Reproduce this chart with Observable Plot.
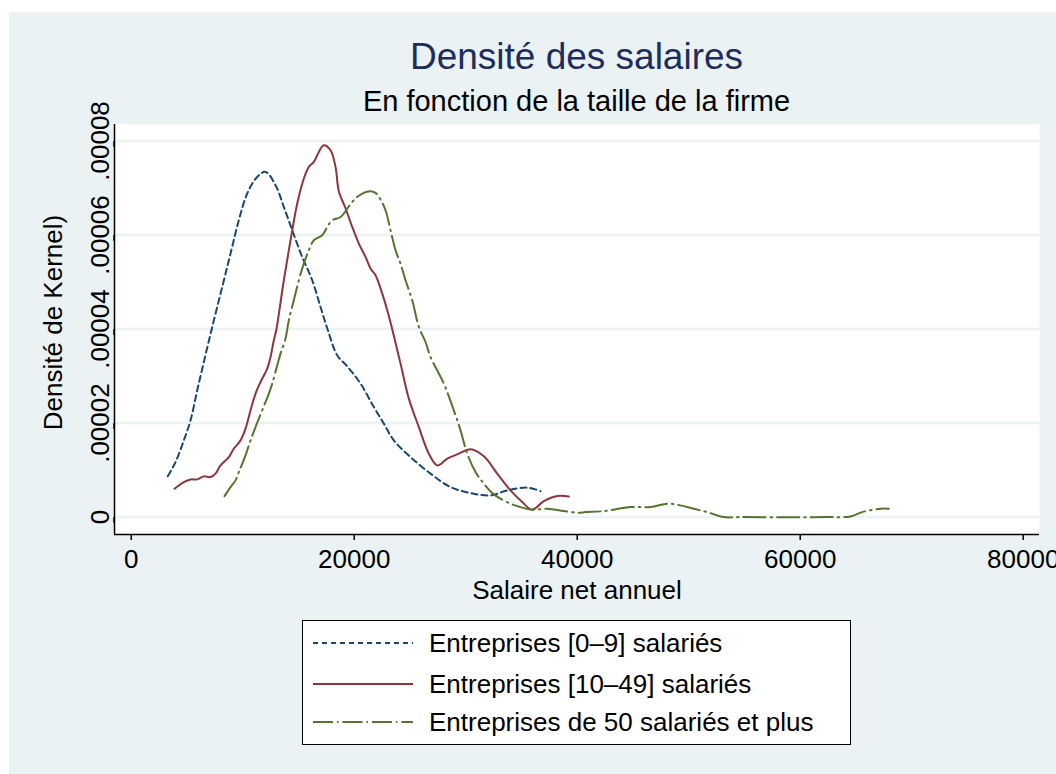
<!DOCTYPE html>
<html>
<head>
<meta charset="utf-8">
<script src="https://cdn.jsdelivr.net/npm/d3@7"></script>
<script src="https://cdn.jsdelivr.net/npm/@observablehq/plot@0.6"></script>
<style>
  html, body { margin: 0; padding: 0; background: #ffffff; }
  body { width: 1056px; height: 774px; position: relative; overflow: hidden; font-family: "Liberation Sans", Arial, sans-serif; }
  #panel { position: absolute; left: 9px; top: 12px; width: 1047px; height: 762px; background: #eaf2f3; }
  #title { position: absolute; left: 105px; width: 925px; top: 24px; text-align: center; font-size: 37px; color: #1e2d5e; line-height: 42px; }
  #subtitle { position: absolute; left: 105px; width: 925px; top: 73px; text-align: center; font-size: 29px; color: #000; line-height: 32px; }
  #chart { position: absolute; left: 0; top: 83px; }
  #legend { position: absolute; left: 293px; top: 608px; width: 547px; height: 123px; background: #fff; border: 1px solid #000; }
  .row { position: absolute; left: 0; height: 36px; display: flex; align-items: center; }
  .row svg { margin-left: 10px; margin-right: 16px; }
  .row span { font-size: 26px; color: #000; }
</style>
</head>
<body>
<div id="panel">
  <div id="title"></div>
  <div id="subtitle"></div>
  <div id="chart"></div>
  <div id="legend"></div>
</div>
<script>
// ---- Data ----
const chartTitle = "Densité des salaires";
const chartSubtitle = "En fonction de la taille de la firme";
const xTitle = "Salaire net annuel";
const yTitle = "Densité de Kernel)";

const seriesNames = [
  "Entreprises [0\u20139] salariés",
  "Entreprises [10\u201349] salariés",
  "Entreprises de 50 salariés et plus"
];

const xTicks = [0, 20000, 40000, 60000, 80000];
const yTicks = [0, 0.00002, 0.00004, 0.00006, 0.00008];
const yTickLabels = ["0", ".00002", ".00004", ".00006", ".00008"];

// Entreprises [0-9] salariés
const salaire09 = [3283, 3973, 4718, 5319, 5920, 6512, 7265, 8162, 8906, 9651, 10404, 11301, 12045, 12942, 13687, 14440, 15337, 16234, 16979, 17580, 18476, 19373, 20566, 21759, 22656, 23553, 25050, 26844, 28638, 30431, 32225, 33723, 35517, 36710];
const densite09 = [8.72e-6, 1.170e-5, 1.632e-5, 2.058e-5, 2.696e-5, 3.298e-5, 4.043e-5, 4.894e-5, 5.605e-5, 6.314e-5, 6.882e-5, 7.235e-5, 7.342e-5, 7.059e-5, 6.597e-5, 6.101e-5, 5.533e-5, 5.037e-5, 4.469e-5, 4.016e-5, 3.441e-5, 3.207e-5, 2.839e-5, 2.341e-5, 1.988e-5, 1.632e-5, 1.277e-5, 9.24e-6, 6.38e-6, 5.11e-6, 4.62e-6, 5.68e-6, 6.26e-6, 5.53e-6];

// Entreprises [10-49] salariés
const salaire1049 = [3883, 4718, 5319, 5920, 6512, 7112, 7561, 8009, 8754, 9202, 9803, 10252, 10700, 11148, 11597, 12198, 12494, 12790, 13005, 13687, 14288, 14889, 15481, 15929, 16378, 16826, 17275, 17875, 18324, 18620, 19221, 19822, 20414, 21014, 21463, 21911, 22512, 22961, 23409, 24154, 24898, 25795, 26692, 27445, 28342, 29382, 30432, 31625, 32826, 34019, 35069, 35966, 37006, 38208, 39248];
const densite1049 = [6.04e-6, 7.45e-6, 8.02e-6, 8.02e-6, 8.66e-6, 8.51e-6, 9.24e-6, 1.100e-5, 1.277e-5, 1.456e-5, 1.632e-5, 1.881e-5, 2.271e-5, 2.626e-5, 2.873e-5, 3.158e-5, 3.405e-5, 3.760e-5, 3.973e-5, 5.037e-5, 5.888e-5, 6.669e-5, 7.201e-5, 7.448e-5, 7.554e-5, 7.767e-5, 7.910e-5, 7.803e-5, 7.448e-5, 6.931e-5, 6.569e-5, 6.171e-5, 5.818e-5, 5.533e-5, 5.286e-5, 5.143e-5, 4.754e-5, 4.399e-5, 3.994e-5, 3.264e-5, 2.520e-5, 1.915e-5, 1.349e-5, 1.100e-5, 1.243e-5, 1.349e-5, 1.441e-5, 1.292e-5, 9.24e-6, 5.68e-6, 3.19e-6, 1.57e-6, 3.40e-6, 4.47e-6, 4.40e-6];

// Entreprises de 50 salariés et plus
const salaire50 = [8368, 8906, 9355, 9651, 10252, 10700, 11148, 11749, 12341, 12646, 13095, 13391, 13839, 14135, 14584, 15032, 15481, 15929, 16378, 17131, 17580, 18028, 18772, 19822, 20566, 21463, 21911, 22360, 22808, 23256, 23705, 24153, 24602, 25203, 25795, 26396, 26844, 28037, 28934, 29535, 30136, 30880, 31625, 32522, 34019, 34916, 35966, 37311, 38800, 40145, 40746, 42387, 44782, 46575, 48073, 48970, 50459, 51661, 53150, 54648, 62424, 64513, 65563, 67204, 67949];
const densite50 = [4.47e-6, 6.38e-6, 7.81e-6, 9.58e-6, 1.313e-5, 1.632e-5, 1.915e-5, 2.271e-5, 2.626e-5, 2.839e-5, 3.228e-5, 3.477e-5, 3.796e-5, 4.186e-5, 4.611e-5, 5.037e-5, 5.392e-5, 5.675e-5, 5.888e-5, 5.995e-5, 6.171e-5, 6.314e-5, 6.384e-5, 6.703e-5, 6.861e-5, 6.931e-5, 6.895e-5, 6.754e-5, 6.527e-5, 6.101e-5, 5.675e-5, 5.392e-5, 5.037e-5, 4.611e-5, 4.043e-5, 3.724e-5, 3.405e-5, 2.839e-5, 2.271e-5, 1.845e-5, 1.349e-5, 9.58e-6, 7.11e-6, 4.83e-6, 2.85e-6, 2.13e-6, 1.57e-6, 1.79e-6, 1.28e-6, 9.4e-7, 1.06e-6, 1.28e-6, 2.13e-6, 2.13e-6, 2.85e-6, 2.64e-6, 1.79e-6, 1.06e-6, 0, 0, 0, 1.5e-7, 1.06e-6, 1.79e-6, 1.79e-6];

const colors = ["#1a476f", "#90353b", "#55752f"];
const dashes = ["6,4", null, "22,5,1.5,5"];

// ---- Build ----
const xDomain = [-1500, 81460];
const yDomain = [-0.0000037, 0.0000835];

const toRows = (xs, ys) => xs.map((x, i) => ({x, y: ys[i]}));
const series = [
  toRows(salaire09, densite09),
  toRows(salaire1049, densite1049),
  toRows(salaire50, densite50)
];

document.getElementById("title").textContent = chartTitle;
document.getElementById("subtitle").textContent = chartSubtitle;

const font = "Liberation Sans, Arial, sans-serif";

const chart = Plot.plot({
  width: 1047,
  height: 515,
  marginLeft: 105,
  marginRight: 17,
  marginTop: 29,
  marginBottom: 76,
  style: {background: "transparent", fontFamily: font, fontSize: "26px", color: "#000", overflow: "visible"},
  x: {domain: xDomain, label: null},
  y: {domain: yDomain, label: null},
  marks: [
    Plot.frame({fill: "#ffffff", stroke: null}),
    Plot.gridY(yTicks, {stroke: "#eaf2f3", strokeOpacity: 1, strokeWidth: 2.5}),
    ...series.map((data, i) => Plot.line(data, {
      x: "x", y: "y", stroke: colors[i], strokeWidth: 2,
      strokeDasharray: dashes[i], curve: "catmull-rom"
    })),
    Plot.ruleY([yDomain[0]], {stroke: "#000", strokeWidth: 1.5}),
    Plot.ruleX([xDomain[0]], {stroke: "#000", strokeWidth: 1.5}),
    Plot.axisX(xTicks, {
      tickSize: 6, tickPadding: 9, tickFormat: d3.format("d"),
      fontSize: 26, stroke: "#000", strokeWidth: 1.5, fill: "#000", label: null
    }),
    Plot.axisY(yTicks, {
      tickSize: 6, tickPadding: 8, tickFormat: (d) => yTickLabels[yTicks.indexOf(d)],
      rotate: -90, textAnchor: "middle",
      fontSize: 26, stroke: "#000", strokeWidth: 1.5, fill: "#000", label: null
    }),
    Plot.text([xTitle], {frameAnchor: "bottom", text: d => d, dy: 56, fontSize: 26, fill: "#000", lineAnchor: "middle", textAnchor: "middle"}),
    Plot.text([yTitle], {frameAnchor: "left", text: d => d, dx: -61, dy: -7, rotate: -90, fontSize: 26, fill: "#000", lineAnchor: "middle", textAnchor: "middle"})
  ]
});
document.getElementById("chart").appendChild(chart);

// ---- Legend ----
const legend = document.getElementById("legend");
const rowTops = [4, 45, 83];
seriesNames.forEach((name, i) => {
  const row = document.createElement("div");
  row.className = "row";
  row.style.top = rowTops[i] + "px";
  const ns = "http://www.w3.org/2000/svg";
  const s = document.createElementNS(ns, "svg");
  s.setAttribute("width", 100);
  s.setAttribute("height", 10);
  const l = document.createElementNS(ns, "line");
  l.setAttribute("x1", 0); l.setAttribute("x2", 100);
  l.setAttribute("y1", 5); l.setAttribute("y2", 5);
  l.setAttribute("stroke", colors[i]);
  l.setAttribute("stroke-width", 2);
  if (dashes[i]) l.setAttribute("stroke-dasharray", i === 2 ? "20,4,1.5,4" : "5,4");
  s.appendChild(l);
  const t = document.createElement("span");
  t.textContent = name;
  row.appendChild(s);
  row.appendChild(t);
  legend.appendChild(row);
});
</script>
</body>
</html>
